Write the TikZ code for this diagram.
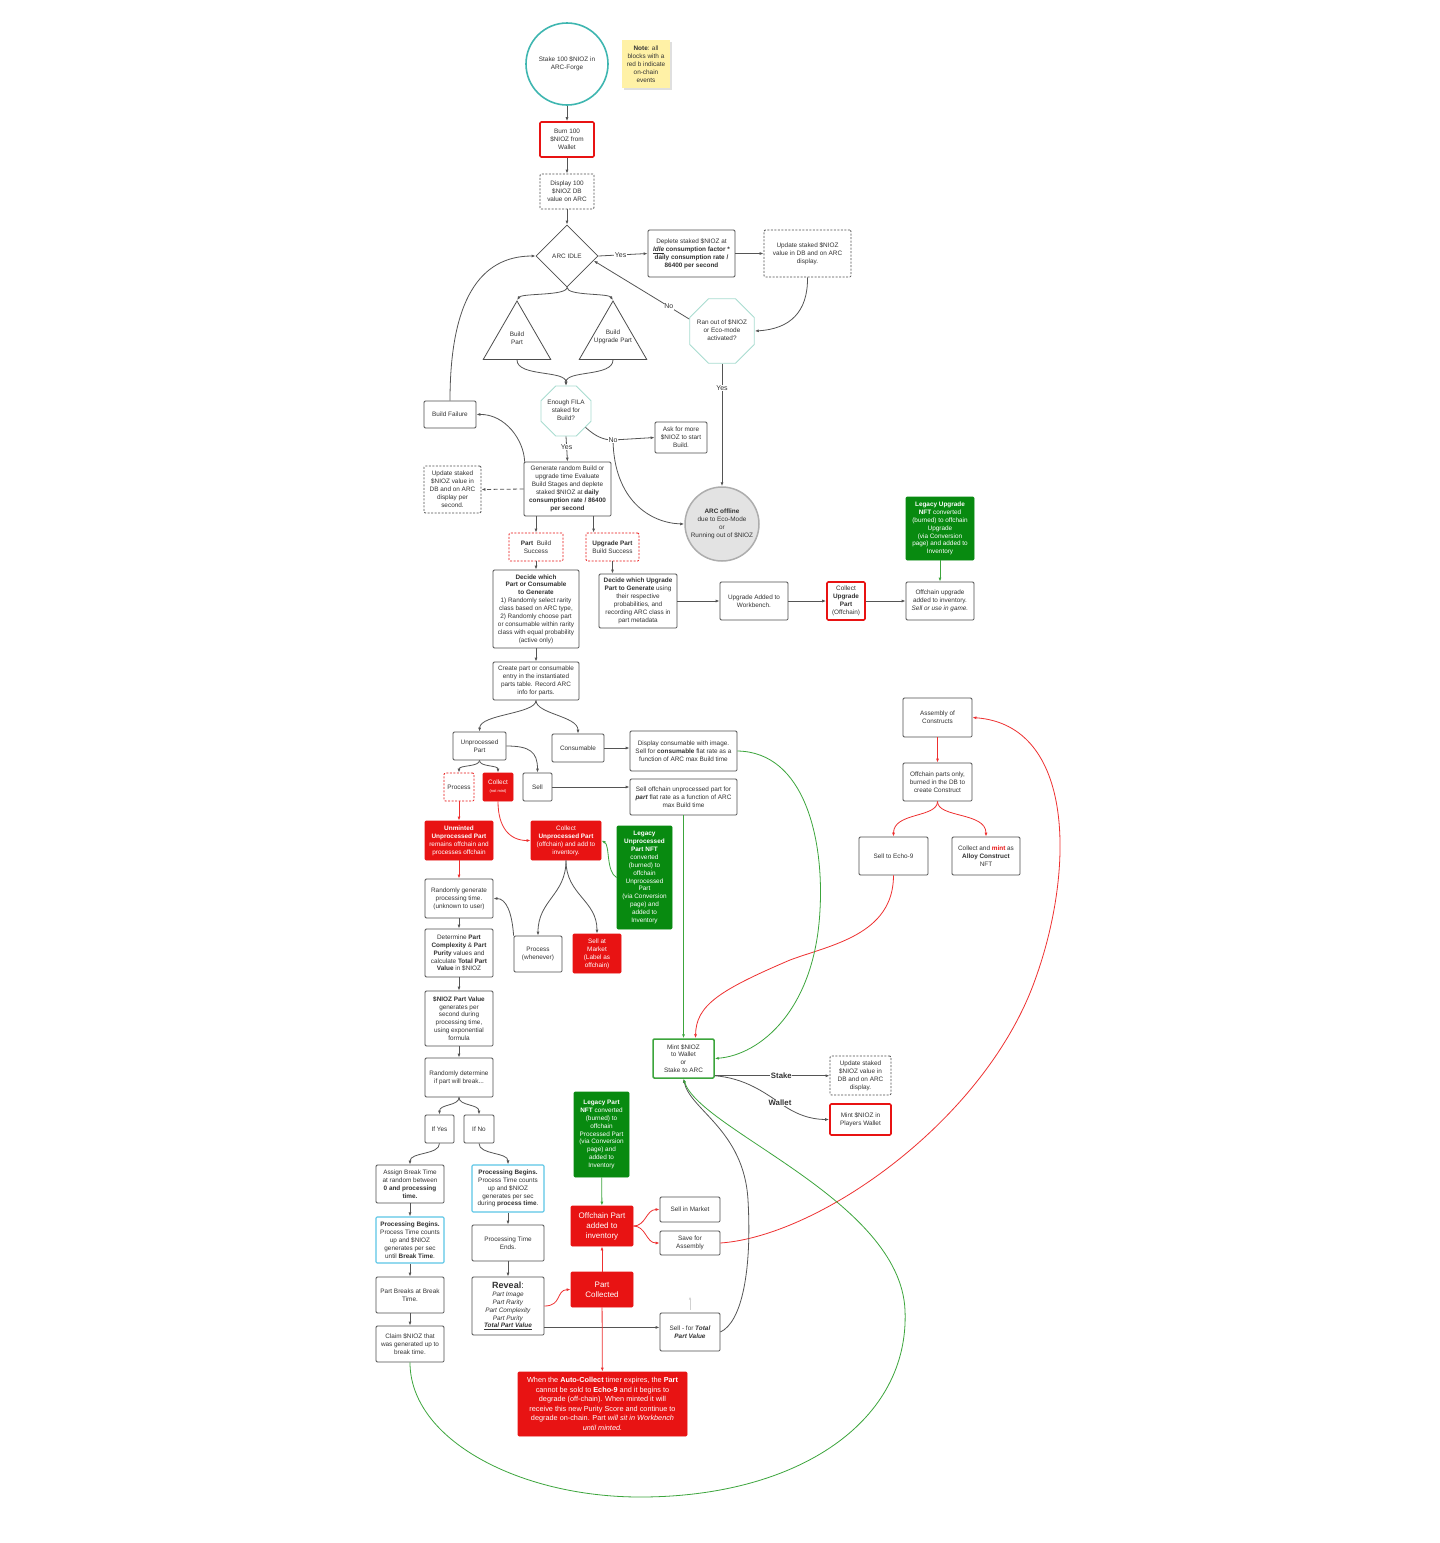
\documentclass[tikz,border=0pt]{standalone}
\usepackage{fontspec}
\setmainfont{Liberation Sans}
\usetikzlibrary{shapes.geometric,arrows.meta,calc,shadows}
\definecolor{lg}{HTML}{4D4D4D}
\definecolor{cn}{HTML}{555555}
\definecolor{tx}{HTML}{333333}
\definecolor{rd}{HTML}{E81313}
\definecolor{rl}{HTML}{EE3030}
\definecolor{gf}{HTML}{088A10}
\definecolor{gl}{HTML}{3CA53C}
\definecolor{tealc}{HTML}{3EB6B0}
\definecolor{oct}{HTML}{A8DCD0}
\definecolor{cy}{HTML}{5CC6E6}
\definecolor{yl}{HTML}{FFF1A6}
\definecolor{offg}{HTML}{E3E3E3}
\tikzset{
  base/.style={font=\fontsize{6.4}{7.9}\selectfont, text=tx, align=center, inner sep=1pt},
  sz/.style 2 args={minimum width=#1, minimum height=#2},
  box/.style={base, draw=lg, line width=0.8pt, rounded corners=1.2pt, rectangle},
  dbox/.style={box, dash pattern=on 2pt off 1.5pt},
  rdbox/.style={box, draw=rd, dash pattern=on 2pt off 1.5pt},
  rbox/.style={box, draw=rd, line width=1.6pt},
  rfill/.style={box, draw=rd, fill=rd, text=white},
  gfill/.style={box, draw=gf, fill=gf, text=white},
  cbox/.style={box, draw=cy, line width=1.1pt},
  octo/.style={regular polygon, regular polygon sides=8, draw=oct, line width=0.8pt, inner sep=0},
  arr/.style={draw=cn, line width=0.8pt, -{Latex[length=4pt,width=3pt]}},
  rarr/.style={arr, draw=rl},
  garr/.style={arr, draw=gl},
  lab/.style={font=\fontsize{7}{8}\selectfont, text=tx, fill=white, inner sep=0.6pt},
  blab/.style={lab, font=\bfseries\fontsize{7.8}{9}\selectfont},
}
\begin{document}
\begin{tikzpicture}[x=1pt,y=-1pt]
\fill[white] (0,0) rectangle (1440,1543);
\useasboundingbox (0,0) rectangle (1440,1543);

% ---------- top ----------
\node[base, circle, draw=tealc, line width=1.6pt, minimum size=82, inner sep=0] (stake) at (567,64) {Stake 100 \$NIOZ in\\ARC-Forge};
\node[base, fill=yl, sz={48}{48}, drop shadow={shadow xshift=1.5pt, shadow yshift=-1.5pt, opacity=0.25}] (note) at (646,64) {\textbf{Note}: all\\blocks with a\\red b indicate\\on-chain\\events};
\node[rbox, sz={54}{35}] (burn) at (567,139.5) {Burn 100\\\$NIOZ from\\Wallet};
\node[dbox, sz={54}{35}] (display) at (567,191.5) {Display 100\\\$NIOZ DB\\value on ARC};
\node[base, diamond, draw=lg, line width=0.8pt, minimum width=62, minimum height=62, inner sep=0] (idle) at (567,256) {ARC IDLE};
\node[box, sz={87}{47}] (deplete) at (691.5,253.5) {Deplete staked \$NIOZ at\\\underline{\textbf{\textit{Idle}}} \textbf{consumption factor *}\\\textbf{daily consumption rate /}\\\textbf{86400 per second}};
\node[dbox, sz={87}{47}] (updTop) at (807.5,253.5) {Update staked \$NIOZ\\value in DB and on ARC\\display.};
\node[octo, minimum size=70] (ranout) at (722,331) {};
\node[base] (ranouttx) at (722,330) {Ran out of \$NIOZ\\or Eco-mode\\activated?};

\node[regular polygon, regular polygon sides=3, draw=lg, line width=0.8pt, minimum size=78, inner sep=0] (tpart) at (517,340) {};
\node[base] (tparttx) at (517,338) {Build\\Part};
\node[regular polygon, regular polygon sides=3, draw=lg, line width=0.8pt, minimum size=78, inner sep=0] (tupg) at (613,340) {};
\node[base] (tupgtx) at (613,337) {Build\\Upgrade Part};

\node[octo, minimum size=54] (fila) at (566,411) {};
\node[base] (filatx) at (566,410.5) {Enough FILA\\staked for\\Build?};
\node[box, sz={52}{27}] (buildFail) at (450,414.5) {Build Failure};
\node[box, sz={52}{31}] (askMore) at (681,437.5) {Ask for more\\\$NIOZ to start\\Build.};
\node[box, sz={87}{54}] (generate) at (567.5,489) {Generate random Build or\\upgrade time Evaluate\\Build Stages and deplete\\staked \$NIOZ at \textbf{daily}\\\textbf{consumption rate / 86400}\\\textbf{per second}};
\node[dbox, sz={57}{47}] (updLeft) at (452.5,489.5) {Update staked\\\$NIOZ value in\\DB and on ARC\\display per\\second.};
\node[base, circle, draw=black!32, fill=offg, line width=1.5pt, minimum size=74, inner sep=0] (offline) at (722,524) {\textbf{ARC offline}\\due to Eco-Mode\\or\\Running out of \$NIOZ};
\node[gfill, sz={68}{63}] (legUpg) at (940,528.5) {\textbf{Legacy Upgrade}\\\textbf{NFT} converted\\(burned) to offchain\\Upgrade\\(via Conversion\\page) and added to\\Inventory};

% ---------- build results ----------
\node[rdbox, sz={54}{28}] (partBS) at (536,547) {\textbf{Part}~ Build\\Success};
\node[rdbox, sz={53}{28}] (upgBS) at (612.5,547) {\textbf{Upgrade Part}\\Build Success};
\node[box, sz={86}{78}] (decidePart) at (536,609) {\textbf{Decide which}\\\textbf{Part or Consumable}\\\textbf{to Generate}\\1) Randomly select rarity\\class based on ARC type,\\2) Randomly choose part\\or consumable within rarity\\class with equal probability\\(active only)};
\node[box, sz={78}{54}] (decideUpg) at (638,601) {\textbf{Decide which Upgrade}\\\textbf{Part to Generate} using\\their respective\\probabilities, and\\recording ARC class in\\part metadata};
\node[box, sz={68}{38}] (upgAdded) at (754,601) {Upgrade Added to\\Workbench.};
\node[rbox, sz={38}{38}] (collectUpg) at (846,601) {Collect\\\textbf{Upgrade}\\\textbf{Part}\\(Offchain)};
\node[box, sz={68}{38}] (offUpg) at (940,601) {Offchain upgrade\\added to inventory.\\\textit{Sell or use in game.}};
\node[box, sz={86}{38}] (createPart) at (536,681) {Create part or consumable\\entry in the instantiated\\parts table. Record ARC\\info for parts.};

% ---------- unprocessed ----------
\node[box, sz={53}{28}] (unproc) at (479.5,746) {Unprocessed\\Part};
\node[box, sz={52}{28}] (consum) at (578,748) {Consumable};
\node[box, sz={107}{40}] (dispCons) at (683.5,751) {Display consumable with image.\\Sell for \textbf{consumable} flat rate as a\\function of ARC max Build time};
\node[rdbox, sz={30}{28}] (process) at (459,787) {Process};
\node[rfill, sz={30}{28}] (collectNM) at (498,787) {Collect\\{\fontsize{4}{5}\selectfont (not mint)}};
\node[box, sz={29}{28}] (sell) at (537.5,787) {Sell};
\node[box, sz={107}{36}] (sellOff) at (683.5,797) {Sell offchain unprocessed part for\\\textbf{\textit{part}} flat rate as a function of ARC\\max Build time};
\node[rfill, sz={68}{39}] (unminted) at (459,840.5) {\textbf{Unminted}\\\textbf{Unprocessed Part}\\remains offchain and\\processes offchain};
\node[rfill, sz={70}{39}] (collectUP) at (566,840.5) {Collect\\\textbf{Unprocessed Part}\\(offchain) and add to\\inventory.};
\node[gfill, sz={55}{103}] (legUnproc) at (644.5,877.5) {\textbf{Legacy}\\\textbf{Unprocessed}\\\textbf{Part NFT}\\converted\\(burned) to\\offchain\\Unprocessed\\Part\\(via Conversion\\page) and\\added to\\Inventory};
\node[box, sz={68}{39}] (randGen) at (459,898.5) {Randomly generate\\processing time.\\(unknown to user)};
\node[box, sz={68}{48}] (determine) at (459,953) {Determine \textbf{Part}\\\textbf{Complexity} \& \textbf{Part}\\\textbf{Purity} values and\\calculate \textbf{Total Part}\\\textbf{Value} in \$NIOZ};
\node[box, sz={48}{36}] (procWhen) at (538,954) {Process\\(whenever)};
\node[rfill, sz={48}{39}] (sellMkt) at (597,953.5) {Sell at\\Market\\(Label as\\offchain)};
\node[box, sz={68}{55}] (partValue) at (459,1018.5) {\textbf{\$NIOZ Part Value}\\generates per\\second during\\processing time,\\using exponential\\formula};
\node[box, sz={68}{39}] (randDet) at (459,1077.5) {Randomly determine\\if part will break...};
\node[box, sz={29}{28}] (ifYes) at (439.5,1129) {If Yes};
\node[box, sz={30}{28}] (ifNo) at (479,1129) {If No};
\node[box, sz={68}{38}] (assign) at (410,1184) {Assign Break Time\\at random between\\\textbf{0 and processing}\\\textbf{time.}};
\node[cbox, sz={72}{47}] (procBegNo) at (508,1188.5) {\textbf{Processing Begins.}\\Process Time counts\\up and \$NIOZ\\generates per sec\\during \textbf{process time}.};
\node[gfill, sz={55}{85}] (legPart) at (601.5,1134.5) {\textbf{Legacy Part}\\\textbf{NFT} converted\\(burned) to\\offchain\\Processed Part\\(via Conversion\\page) and\\added to\\Inventory};
\node[cbox, sz={68}{46}] (procBegYes) at (410,1240) {\textbf{Processing Begins.}\\Process Time counts\\up and \$NIOZ\\generates per sec\\until \textbf{Break Time}.};
\node[box, sz={72}{36}] (procEnds) at (508,1243) {Processing Time\\Ends.};
\node[box, sz={68}{36}] (partBreaks) at (410,1295) {Part Breaks at Break\\Time.};
\node[box, sz={72}{58}] (reveal) at (508,1306) {{\fontsize{9}{10}\selectfont\textbf{Reveal}:}\\\textit{Part Image}\\\textit{Part Rarity}\\\textit{Part Complexity}\\\textit{Part Purity}\\\textbf{\textit{\underline{Total Part Value}}}};
\node[box, sz={68}{36}] (claim) at (410,1344) {Claim \$NIOZ that\\was generated up to\\break time.};
\node[rfill, sz={62}{40}, font=\fontsize{8}{10}\selectfont] (offPart) at (602,1226) {Offchain Part\\added to\\inventory};
\node[box, sz={60}{25}] (sellInMkt) at (690,1209.5) {Sell in Market};
\node[box, sz={60}{24}] (saveAsm) at (690,1243) {Save for\\Assembly};
\node[rfill, sz={62}{35}, font=\fontsize{8}{10}\selectfont] (partColl) at (602,1289.5) {Part\\Collected};
\node[box, sz={60}{38}] (sellTotal) at (690,1332) {Sell - for \textbf{\textit{Total}}\\\textbf{\textit{Part Value}}};
\node[rfill, sz={169}{64}, font=\fontsize{7.3}{9.5}\selectfont] (autoColl) at (602.5,1404) {When the \textbf{Auto-Collect} timer expires, the \textbf{Part}\\cannot be sold to \textbf{Echo-9} and it begins to\\degrade (off-chain). When minted it will\\receive this new Purity Score and continue to\\degrade on-chain. Part \textit{will sit in Workbench}\\\textit{until minted.}};
\node[box, draw=gl, line width=1.5pt, sz={61}{39}] (mint) at (683.5,1058.5) {Mint \$NIOZ\\to Wallet\\or\\Stake to ARC};
\node[dbox, sz={61}{39}] (updStake) at (860.5,1075.5) {Update staked\\\$NIOZ value in\\DB and on ARC\\display.};
\node[rbox, sz={61}{31}] (mintWallet) at (860.5,1119.5) {Mint \$NIOZ in\\Players Wallet};

% ---------- constructs ----------
\node[box, sz={69}{39}] (assembly) at (937.5,717.5) {Assembly of\\Constructs};
\node[box, sz={69}{38}] (offParts) at (937.5,782) {Offchain parts only,\\burned in the DB to\\create Construct};
\node[box, sz={69}{38}] (sellEcho) at (893.5,856) {Sell to Echo-9};
\node[box, sz={68}{38}] (collectMint) at (986,856) {Collect and \textcolor{rd}{\textbf{mint}} as\\\textbf{Alloy Construct}\\NFT};

% ---------- connectors ----------
\draw[arr] (stake) -- (burn);
\draw[arr] (burn) -- (display);
\draw[arr] (display) -- (idle);
\draw[arr] (idle.east) -- node[lab, pos=0.45]{Yes} (deplete.west);
\draw[arr] (deplete.east) -- (updTop.west);
\draw[arr] (updTop.south) .. controls (808,312) and (790,329) .. (ranout.east);
\draw[arr] (ranout.160) .. controls (655,298) and (622,278) .. node[lab, pos=0.2]{No} (idle.-10);
\draw[arr] (ranout) -- node[lab, pos=0.2]{Yes} (offline);
\draw[arr] (idle.south) .. controls (567,296) and (522,293) .. (tpart.north);
\draw[arr] (idle.south) .. controls (567,296) and (608,293) .. (tupg.north);
\draw[arr] (tpart.south) .. controls (517,377) and (566,370) .. (fila.north);
\draw[arr] (tupg.south) .. controls (613,377) and (566,370) .. (fila.north);
\draw[arr] (fila.south) -- node[lab, pos=0.42]{Yes} (generate.north);
\coordinate (noF) at (613,440);
\draw[arr] (fila.-40) .. controls (595,436) and (603,440) .. (noF) -- (askMore.west);
\draw[arr] (noF) .. controls (614,500) and (650,523) .. (offline.west);
\node[lab] (noFlab) at (noF) {No};
\draw[arr] ($(generate.north west)+(1,0)$) .. controls (524,440) and (505,414) .. (buildFail.east);
\draw[arr] (buildFail.north) .. controls (450,300) and (480,256) .. (idle.west);
\draw[arr, dash pattern=on 4pt off 2.5pt] (generate.west) -- (updLeft.east);
\draw[arr] (generate.south -| partBS.north) -- (partBS.north);
\draw[arr] ($(generate.south -| upgBS.north west)+(8,0)$) -- ($(upgBS.north west)+(8,0)$);
\draw[arr] (partBS) -- (decidePart);
\draw[arr] (upgBS.south) -- (upgBS.south |- decideUpg.north);
\draw[arr] (decideUpg.east) -- (upgAdded.west);
\draw[arr] (upgAdded) -- (collectUpg);
\draw[arr] (collectUpg) -- (offUpg);
\draw[garr] (legUpg) -- (offUpg);
\draw[arr] (decidePart) -- (createPart);
\draw[arr] (createPart.south) .. controls (536,714) and (480,714) .. (unproc.north);
\draw[arr] (createPart.south) .. controls (536,714) and (578,716) .. (consum.north);
\draw[arr] (unproc.east) .. controls (530,746) and (537.5,752) .. (sell.north);
\draw[arr] (unproc.south) .. controls (479.5,767) and (459,765) .. (process.north);
\draw[arr] (unproc.south) .. controls (479.5,767) and (498,765) .. (collectNM.north);
\draw[arr] (consum.east) -- (consum.east -| dispCons.west);
\draw[arr] (sell.east) -- (sell.east -| sellOff.west);
\draw[rarr] (process) -- (unminted);
\draw[rarr] (collectNM.south) .. controls (498,828) and (510,840.5) .. (collectUP.west);
\draw[garr] (legUnproc.west) .. controls (606,872) and (610,845) .. (collectUP.east);
\draw[rarr] (unminted) -- (randGen);
\draw[arr] (collectUP.south) .. controls (566,895) and (538,900) .. (procWhen.north);
\draw[arr] (collectUP.south) .. controls (566,895) and (597,900) .. (sellMkt.north);
\draw[arr] (procWhen.north west) .. controls (512,912) and (506,898.5) .. (randGen.east);
\draw[arr] (randGen) -- (determine);
\draw[arr] (determine) -- (partValue);
\draw[arr] (partValue) -- (randDet);
\draw[arr] (randDet.south) .. controls (459,1106) and (439.5,1104) .. (ifYes.north);
\draw[arr] (randDet.south) .. controls (459,1106) and (479,1104) .. (ifNo.north);
\draw[arr] (ifYes.south) .. controls (439.5,1155) and (410,1152) .. (assign.north);
\draw[arr] (ifNo.south) .. controls (479,1155) and (508,1152) .. (procBegNo.north);
\draw[arr] (assign) -- (procBegYes);
\draw[arr] (procBegYes) -- (partBreaks);
\draw[arr] (partBreaks) -- (claim);
\draw[arr] (procBegNo) -- (procEnds);
\draw[arr] (procEnds) -- (reveal);
\draw[rarr] (reveal.east) .. controls (562,1306) and (556,1290) .. (partColl.west);
\coordinate (rv) at ($(reveal.south east)+(0,-8)$);
\draw[arr] (rv) -- (rv -| sellTotal.west);
\draw[rarr] (partColl) -- (offPart);
\draw[rarr] (partColl) -- (autoColl);
\draw[garr] (legPart) -- (offPart);
\draw[rarr] (offPart.east) .. controls (646,1226) and (646,1209.5) .. (sellInMkt.west);
\draw[rarr] (offPart.east) .. controls (646,1226) and (646,1243) .. (saveAsm.west);
\draw[rarr] (saveAsm.east) .. controls (820,1236) and (985,1120) .. (1035,980) .. controls (1075,870) and (1075,725) .. (assembly.east);
\draw[rarr] (assembly) -- (offParts);
\draw[rarr] (offParts.south) .. controls (937.5,818) and (893.5,812) .. (sellEcho.north);
\draw[rarr] (offParts.south) .. controls (937.5,818) and (986,812) .. (collectMint.north);
\draw[rarr] (sellEcho.south) .. controls (893.5,935) and (830,945) .. (790,960) .. controls (720,990) and (696,1005) .. ($(mint.north)+(12,0)$);
\draw[garr] (sellOff.south) -- (mint.north);
\draw[garr] (dispCons.east) .. controls (805,752) and (824,840) .. (820,910) .. controls (815,1010) and (760,1055) .. (mint.east);
\coordinate (ms) at ($(mint.south east)+(0,-3)$);
\draw[arr] (ms) -- node[blab, pos=0.58]{Stake} (ms -| updStake.west);
\draw[arr] (ms) .. controls (745,1078) and (765,1093) .. (780,1103) .. controls (795,1114) and (810,1119.5) .. (mintWallet.west);
\node[blab] (walletlab) at (780,1103) {Wallet};
\draw[arr] (sellTotal.east) .. controls (742,1322) and (752,1270) .. (748,1200) .. controls (744,1130) and (690,1110) .. (mint.south);
\draw[garr] (claim.south) .. controls (410,1440) and (520,1497) .. (640,1497) .. controls (800,1497) and (910,1420) .. (905,1310) .. controls (900,1200) and (700,1130) .. (mint.south);
\draw[draw=black!18, line width=0.8pt, -{Latex[length=3pt,width=2.5pt]}] ($(sellTotal.north)+(0,-3)$) -- ($(sellTotal.north)+(0,-16)$);
\end{tikzpicture}
\end{document}
